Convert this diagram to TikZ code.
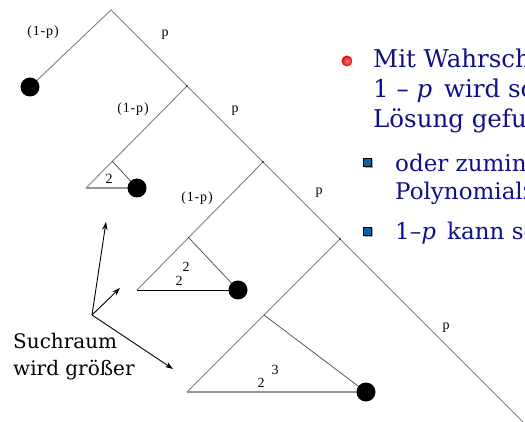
\documentclass[tikz,border=0pt]{standalone}
\usepackage{fontspec}
\setmainfont{DejaVu Serif}
\newfontfamily\lblfont[LetterSpace=6]{Liberation Serif}
\newfontfamily\numfont{Liberation Serif}
\usetikzlibrary{arrows.meta}
\definecolor{treegray}{RGB}{128,128,128}
\definecolor{innergray}{RGB}{70,70,70}
\definecolor{basegray}{RGB}{150,150,150}
\definecolor{navytext}{RGB}{16,16,135}
\definecolor{bulletblue}{RGB}{16,96,160}
\definecolor{bulletredlight}{RGB}{255,120,120}
\definecolor{bulletreddark}{RGB}{215,10,10}
\begin{document}
\begin{tikzpicture}[x=1pt,y=-1pt,
  branch/.style={draw=treegray,line width=0.9pt},
  innerline/.style={draw=innergray,line width=0.7pt},
  graybase/.style={draw=basegray,line width=2pt},
  blackbase/.style={draw=black,line width=0.9pt},
  leaf/.style={circle,fill=black,minimum size=19pt,inner sep=0pt},
  joint/.style={circle,fill=black,minimum size=1.6pt,inner sep=0pt},
  problbl/.style={font=\lblfont\fontsize{14}{14}\selectfont,inner sep=0pt,anchor=base},
  numlbl/.style={font=\numfont\fontsize{14}{14}\selectfont,inner sep=0pt,anchor=base},
  mainline/.style={font=\fontsize{24.5}{30}\selectfont,text=navytext,inner sep=0pt,anchor=base west},
  subline/.style={font=\fontsize{23}{28}\selectfont,text=navytext,inner sep=0pt,anchor=base west},
  notetext/.style={font=\fontsize{20}{27}\selectfont,inner sep=0pt,anchor=base west},
  pointer/.style={-{Stealth[length=8pt,width=5.5pt]},line width=0.9pt}
]
\useasboundingbox (0,0) rectangle (525,422);
\clip (0,0) rectangle (525,422);

% spine of the tree and its branch points
\coordinate (A)  at (111,10);
\coordinate (N1) at (187,86);
\coordinate (N2) at (263,162);
\coordinate (N3) at (340,239);
\coordinate (E)  at (523,422);

% apex corners of the search-space triangles and their left corners
\coordinate (T1) at (112,161);
\coordinate (L1) at (86,188);
\coordinate (T2) at (188,237);
\coordinate (L2) at (137,290);
\coordinate (T3) at (264,315);
\coordinate (L3) at (187,392);

% leaves
\coordinate (D0) at (30,87);
\coordinate (D1) at (137,188);
\coordinate (D2) at (238,290);
\coordinate (D3) at (366,392);

% tree edges
\draw[branch] (A) -- (E);
\draw[branch] (A) -- (D0);
\draw[branch] (N1) -- (L1);
\draw[branch] (N2) -- (L2);
\draw[branch] (N3) -- (L3);

% triangle sides
\draw[innerline] (T1) -- (D1);
\draw[innerline] (T2) -- (D2);
\draw[innerline] (T3) -- (D3);
\draw[graybase] (L1) -- (D1);
\draw[blackbase] (L2) -- (D2);
\draw[graybase] (L3) -- (D3);

% nodes
\node[joint] (j1) at (N1) {};
\node[joint] (j2) at (N2) {};
\node[joint] (j3) at (N3) {};
\node[leaf] (leaf0) at (D0) {};
\node[leaf] (leaf1) at (D1) {};
\node[leaf] (leaf2) at (D2) {};
\node[leaf] (leaf3) at (D3) {};

% edge probabilities
\node[problbl] (q1) at (43,36) {(1-p)};
\node[problbl] (p1) at (165,37) {p};
\node[problbl] (q2) at (133,113) {(1-p)};
\node[problbl] (p2) at (235,113) {p};
\node[problbl] (q3) at (197,202) {(1-p)};
\node[problbl] (p3) at (319,195) {p};
\node[problbl] (p4) at (446,329) {p};

% sizes of the search spaces
\node[numlbl] (s1) at (109,184) {2};
\node[numlbl] (s2) at (179,285) {2};
\node[numlbl] (s2e) at (186,272) {2};
\node[numlbl] (s3) at (261,387) {2};
\node[numlbl] (s3e) at (275,374) {3};

% annotation with arrows
\coordinate (S) at (92,315);
\coordinate (P1) at (106,222);
\coordinate (P2) at (120,288);
\coordinate (P3) at (173,369);
\draw[pointer] (S) -- (P1);
\draw[pointer] (S) -- (P2);
\draw[pointer] (S) -- (P3);
\node[notetext] (n1) at (13,348) {Suchraum};
\node[notetext] (n2) at (13,375) {wird größer};

% bullet list
\shade[inner color=bulletredlight,outer color=bulletreddark] (347,61) circle (5.5);
\node[mainline] (m1) at (373,68) {Mit Wahrsch};
\node[mainline] (m2) at (373,98) {1 – \textit{p}\, wird so};
\node[mainline] (m3) at (373,128) {Lösung gefun};

\fill[gray!70] (364.5,159.5) rectangle (373,168);
\draw[black,fill=bulletblue,line width=0.8pt] (363,158) rectangle (371,166);
\node[subline] (b1) at (395,172) {oder zumin};
\node[subline] (b2) at (395,200) {Polynomialz};

\fill[gray!70] (364.5,228.5) rectangle (373,237);
\draw[black,fill=bulletblue,line width=0.8pt] (363,227) rectangle (371,235);
\node[subline] (b3) at (395,240) {1–\textit{p}\, kann se};
\end{tikzpicture}
\end{document}
